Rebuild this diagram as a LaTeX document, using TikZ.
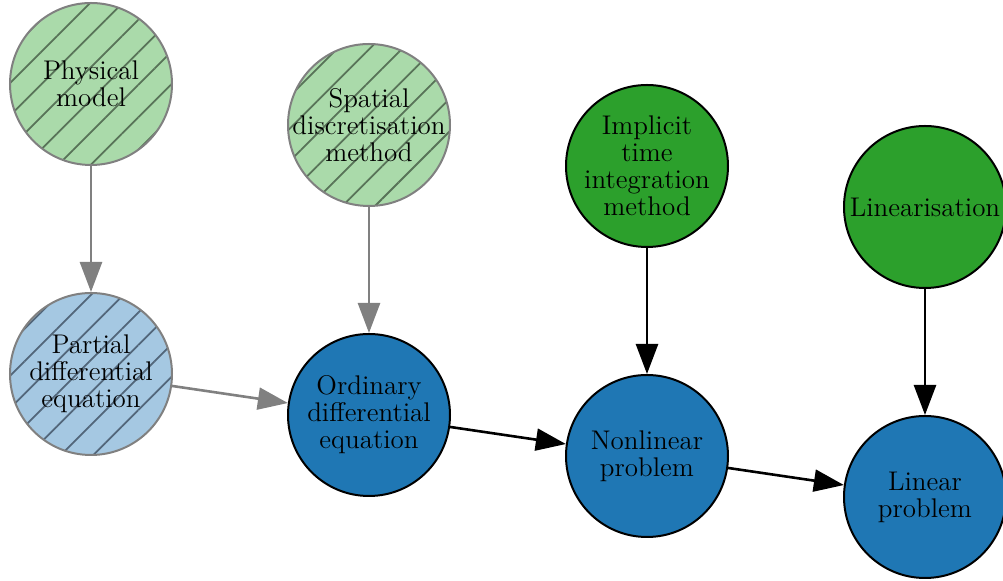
\documentclass[tikz,border=0pt]{standalone}
\usepackage{fontspec}
\usetikzlibrary{
  arrows.meta,
  patterns.meta,
  positioning,
}
\tikzstyle{flow} = [
  -{Triangle[length=15pt,width=11pt]},
  line width=1.3pt,
  black,
]
\definecolor{tabblue}{RGB}{31,119,180}
\definecolor{tabgreen}{RGB}{44,160,44}
\definecolor{paleblue}{RGB}{165,200,226}
\definecolor{palegreen}{RGB}{170,218,170}
\definecolor{hatchgreen}{RGB}{88,115,88}
\definecolor{hatchblue}{RGB}{82,102,122}

\begin{document}
\begin{tikzpicture}[
      node distance=145pt, on grid,
      every node/.style={circle, minimum size=81pt, inner sep=-10pt, align=center,
                         font=\fontsize{13.5}{13.5}\selectfont},
      stage/.style={draw=black, line width=1pt, fill=tabblue},
      method/.style={draw=black, line width=1pt, fill=tabgreen},
      given/.style 2 args={draw=gray, line width=1pt, preaction={fill=#1},
                           pattern={Lines[angle=45, distance=11.5pt, line width=0.9pt]},
                           pattern color=#2},
    ]
      \useasboundingbox (-45.5pt,42pt) rectangle (456pt,-248.5pt);
      \node [given={palegreen}{hatchgreen}] (physical) {Physical\\model};
      \node [given={paleblue}{hatchblue}, below=of physical] (pde) {Partial\\differential\\equation};
      \node [given={palegreen}{hatchgreen}, below right=20.5pt and 139pt of physical] (spatial) {Spatial\\discretisation\\method};
      \node [stage, below=of spatial] (ode) {Ordinary\\differential\\equation};
      \node [method, below right=20.5pt and 139pt of spatial] (implicit) {Implicit\\time\\integration\\method};
      \node [stage, below=of implicit] (nonlinear) {Nonlinear\\problem};
      \node [method, below right=20.5pt and 139pt of implicit] (linearisation) {Linearisation};
      \node [stage, below=of linearisation] (linear) {Linear\\problem};
      \draw [flow, gray] (physical) -- (pde);
      \draw [flow, gray] (spatial) -- (ode);
      \draw [flow, gray] (pde) -- (ode);
      \draw [flow] (implicit) -- (nonlinear);
      \draw [flow] (linearisation) -- (linear);
      \draw [flow] (ode) -- (nonlinear);
      \draw [flow] (nonlinear) -- (linear);
    \end{tikzpicture}
\end{document}
